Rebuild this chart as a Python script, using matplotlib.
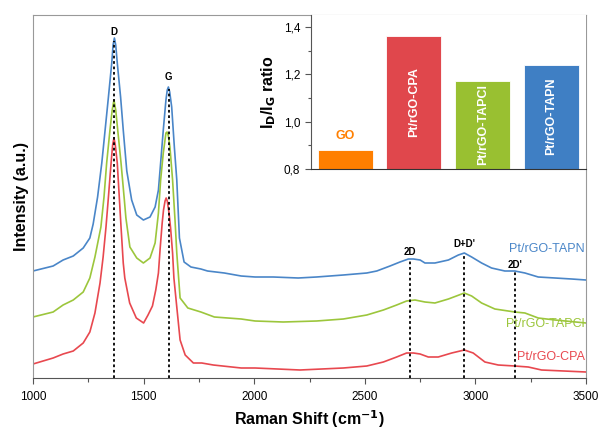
import matplotlib.pyplot as plt
from matplotlib.ticker import MultipleLocator, FuncFormatter

plt.rcParams['font.family'] = ['Liberation Sans', 'DejaVu Sans']

# Raman spectra, offset stacked (a.u.)
wn_tapn = [1000, 1091, 1136, 1182, 1227, 1257, 1272, 1292, 1311, 1326, 1341, 1356, 1362,
           1368, 1374, 1381, 1396, 1408, 1424, 1446, 1469, 1499, 1529, 1552, 1567, 1577,
           1589, 1601, 1607, 1612, 1618, 1627, 1639, 1650, 1662, 1683, 1714, 1759, 1789,
           1865, 1941, 2004, 2086, 2199, 2282, 2403, 2509, 2554, 2614, 2659, 2697, 2720,
           2750, 2772, 2817, 2878, 2923, 2950, 2983, 3028, 3073, 3133, 3178, 3224, 3284,
           3360, 3435, 3500]
int_tapn = [107, 112, 118, 122, 130, 140, 154, 181, 215, 248, 281, 315, 333,
            340, 333, 315, 281, 248, 207, 178, 163, 158, 161, 171, 188, 215,
            248, 278, 288, 291, 286, 271, 231, 198, 140, 116, 111, 109, 107,
            105, 102, 101, 101, 100, 101, 103, 105, 107, 112, 116, 119, 119,
            118, 115, 115, 118, 123, 125, 121, 115, 110, 107, 107, 105, 101,
            100, 99, 98]

wn_tapcl = [1000, 1091, 1136, 1182, 1227, 1257, 1280, 1307, 1321, 1333, 1348, 1358, 1366,
            1374, 1383, 1398, 1413, 1420, 1438, 1469, 1499, 1529, 1552, 1567, 1577, 1589,
            1601, 1606, 1612, 1619, 1631, 1642, 1650, 1665, 1700, 1759, 1820, 1941, 2004,
            2131, 2282, 2403, 2509, 2584, 2644, 2689, 2727, 2772, 2817, 2878, 2950, 2983,
            3028, 3088, 3178, 3224, 3284, 3360, 3500]
int_tapcl = [61, 66, 73, 78, 86, 100, 121, 151, 181, 215, 248, 268, 278,
             268, 248, 215, 178, 160, 131, 120, 115, 120, 135, 165, 198, 225,
             245, 246, 242, 231, 198, 158, 125, 80, 70, 66, 61, 59, 57,
             56, 57, 59, 63, 68, 73, 77, 78, 76, 75, 79, 85, 82,
             75, 69, 66, 65, 60, 58, 55]

wn_cpa = [1000, 1091, 1136, 1182, 1227, 1257, 1280, 1303, 1317, 1330, 1341, 1353, 1360,
          1366, 1372, 1381, 1390, 1398, 1408, 1415, 1437, 1467, 1500, 1520, 1540, 1555,
          1567, 1575, 1584, 1590, 1597, 1602, 1607, 1615, 1622, 1631, 1637, 1650, 1665,
          1688, 1725, 1763, 1815, 1941, 2004, 2207, 2403, 2509, 2584, 2644, 2689, 2720,
          2750, 2787, 2832, 2893, 2950, 2990, 3043, 3103, 3178, 3239, 3299, 3500]
int_cpa = [14, 20, 24, 27, 35, 46, 65, 95, 121, 151, 181, 215, 233,
           240, 233, 215, 181, 151, 115, 100, 75, 60, 55, 63, 72, 88,
           105, 130, 155, 168, 177, 180, 177, 165, 150, 125, 100, 71, 38,
           23, 15, 15, 13, 10, 10, 8, 10, 12, 16, 21, 25, 25,
           24, 21, 21, 25, 28, 25, 16, 13, 12, 11, 8, 6]

# Band positions (cm-1) and the height the marker lines reach
band_names = ['D', 'G', '2D', "D+D'", "2D'"]
band_pos = [1367, 1614, 2705, 2950, 3178]
band_top = [337, 289, 119, 124, 108]
band_label_y = [346, 301, 126, 134, 113]

# I_D/I_G ratios
ratio_names = ['GO', 'Pt/rGO-CPA', 'Pt/rGO-TAPCl', 'Pt/rGO-TAPN']
ratio_values = [0.88, 1.36, 1.17, 1.24]
ratio_colors = ['#ff7f00', '#e0474c', '#99c031', '#3f7fc4']

c_tapn = '#4a86c8'
c_tapcl = '#9cc63c'
c_cpa = '#e8484f'

fig = plt.figure(figsize=(6.02, 4.32), dpi=100)
ax = fig.add_axes([33 / 602, 1 - 378 / 432, 553 / 602, 363 / 432])

ax.plot(wn_tapn, int_tapn, color=c_tapn, lw=1.2)
ax.plot(wn_tapcl, int_tapcl, color=c_tapcl, lw=1.2)
ax.plot(wn_cpa, int_cpa, color=c_cpa, lw=1.2)

for name, x, top, ly in zip(band_names, band_pos, band_top, band_label_y):
    ax.plot([x, x], [0, top], color='black', lw=1.3, ls=(0, (1.5, 1.5)))
    ax.text(x, ly, name, ha='center', va='center', fontsize=7, fontweight='bold')

ax.text(3495, 129, 'Pt/rGO-TAPN', color=c_tapn, ha='right', va='center', fontsize=9)
ax.text(3495, 54, 'Pt/rGO-TAPCl', color=c_tapcl, ha='right', va='center', fontsize=9)
ax.text(3495, 21, 'Pt/rGO-CPA', color=c_cpa, ha='right', va='center', fontsize=9)

ax.set_xlim(1000, 3500)
ax.set_ylim(0, 363)
ax.set_yticks([])
ax.xaxis.set_major_locator(MultipleLocator(500))
ax.xaxis.set_minor_locator(MultipleLocator(250))
ax.tick_params(axis='x', which='major', length=4, width=0.8, color='#555555',
               labelsize=8.5, pad=5)
ax.tick_params(axis='x', which='minor', length=3, width=0.8, color='#555555')
for side in ['left', 'top', 'right']:
    ax.spines[side].set_color('#999999')
ax.spines['bottom'].set_color('#555555')
ax.set_xlabel('Raman Shift (cm$^{\\mathbf{-1}}$)', fontsize=11.5, fontweight='bold', labelpad=4)
ax.set_ylabel('Intensity (a.u.)', fontsize=11.5, fontweight='bold', labelpad=3)

# inset bar chart
ins = fig.add_axes([310.7 / 602, 1 - 169 / 432, 275.3 / 602, 154 / 432])
pos = range(len(ratio_values))
ins.bar(pos, ratio_values, width=0.8, color=ratio_colors, edgecolor='white', lw=0.6)
ins.set_xlim(-0.5, 3.5)
ins.set_ylim(0.8, 1.45)
ins.set_xticks([])
ins.yaxis.set_major_locator(MultipleLocator(0.2))
ins.yaxis.set_minor_locator(MultipleLocator(0.1))
ins.yaxis.set_major_formatter(FuncFormatter(lambda v, p: f'{v:.1f}'.replace('.', ',')))
ins.tick_params(axis='y', which='major', length=4, width=0.8, color='#555555', labelsize=8.5)
ins.tick_params(axis='y', which='minor', length=2, width=0.8, color='#555555')
ins.spines['top'].set_visible(False)
ins.spines['right'].set_visible(False)
ins.spines['left'].set_color('#555555')
ins.spines['bottom'].set_color('#333333')
ins.set_ylabel('I$_\\mathbf{D}$/I$_\\mathbf{G}$ ratio', fontsize=11.5, fontweight='bold', labelpad=4)

ins.text(0, 0.939, ratio_names[0], color=ratio_colors[0], ha='center', va='center',
         fontsize=9, fontweight='bold')
for i, y in zip([1, 2, 3], [1.081, 0.986, 1.024]):
    ins.text(i, y, ratio_names[i], color='white', ha='center', va='center',
             rotation=90, fontsize=9, fontweight='bold')

fig.savefig('out.png', dpi=100)
